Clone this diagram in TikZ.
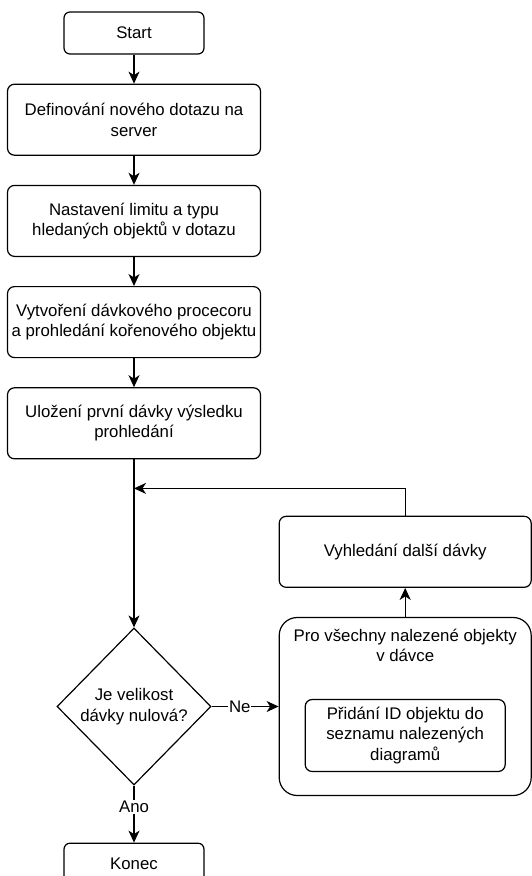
\documentclass[tikz,border=0pt]{standalone}
\usepackage{fontspec}
\setmainfont{Liberation Sans}
\usepackage{tikz}
\usetikzlibrary{shapes.geometric, arrows.meta, positioning}

\begin{document}
\begin{tikzpicture}[
  node distance=29pt,
  font=\fontsize{16.8pt}{20.5pt}\selectfont,
  line width=1.2pt,
  block/.style={rectangle, draw, rounded corners=7pt, align=center, minimum width=253pt, minimum height=71pt, inner sep=2pt},
  term/.style={block, rounded corners=6pt, minimum width=140pt, minimum height=42pt},
  decision/.style={diamond, draw, align=center, minimum width=154pt, minimum height=157pt, inner sep=0pt},
  group/.style={rectangle, draw, rounded corners=18pt, minimum width=252pt, minimum height=178pt},
  inner/.style={block, minimum width=200pt, minimum height=72pt},
  lbl/.style={fill=white, inner sep=1pt},
  arrow/.style={-{Stealth[length=12pt, width=11pt, inset=3.5pt]}}
]
\useasboundingbox (0,0) rectangle (531pt,-876pt);

\node[term] (start) at (134pt,-33pt) {Start};
\node[block, below=of start] (define) {Definování nového dotazu na\\server};
\node[block, below=of define] (limit) {Nastavení limitu a typu\\hledaných objektů v dotazu};
\node[block, below=of limit] (proc) {Vytvoření dávkového procecoru\\a prohledání kořenového objektu};
\node[block, below=of proc] (store) {Uložení první dávky výsledku\\prohledání};
\coordinate[below=of store] (join);
\node[decision, below=168pt of store] (check) {Je velikost\\dávky nulová?};
\node[term, below=57pt of check] (end) {Konec};

% smycka pres davky
\node[group, right=67pt of check] (foreach) {};
\node[align=center, below=8pt of foreach.north] (foreachtitle) {Pro všechny nalezené objekty\\v dávce};
\node[inner, above=24pt of foreach.south] (add) {Přidání ID objektu do\\seznamu nalezených\\diagramů};
\node[block, minimum width=252pt, above=of foreach] (next) {Vyhledání další dávky};

\draw[arrow] (start) -- (define);
\draw[arrow] (define) -- (limit);
\draw[arrow] (limit) -- (proc);
\draw[arrow] (proc) -- (store);
\draw[arrow] (store) -- (check);
\draw[arrow] (check) -- node[lbl, pos=0.42] {Ne} (foreach);
\draw[arrow] (foreach) -- (next);
\draw[arrow] (next.north) |- (join);
\draw[arrow] (check) -- node[lbl, pos=0.38] {Ano} (end);
\end{tikzpicture}
\end{document}
